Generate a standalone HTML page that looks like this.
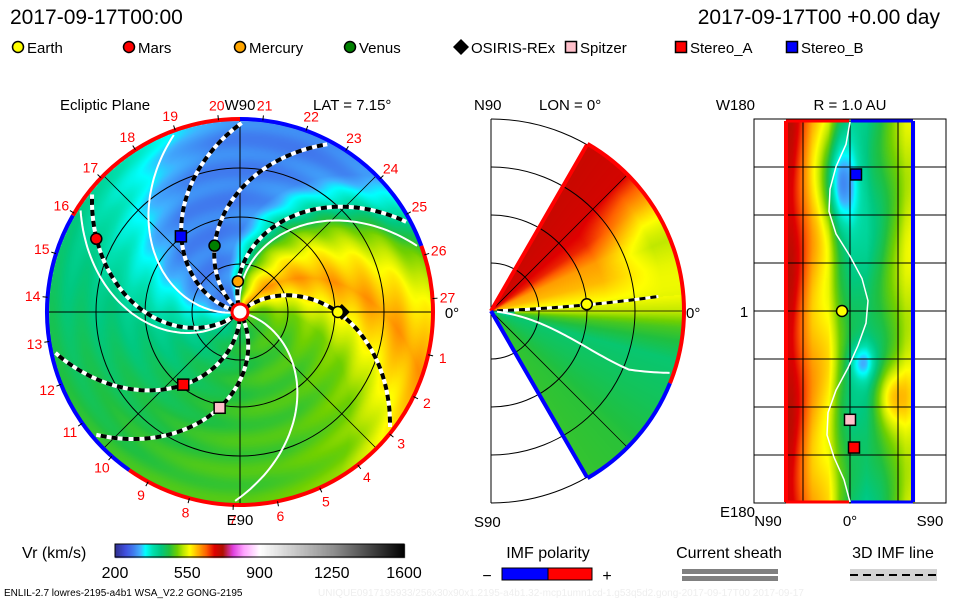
<!DOCTYPE html>
<html><head><meta charset="utf-8">
<style>
html,body{margin:0;padding:0;background:#fff;}
#wrap{position:relative;width:960px;height:600px;overflow:hidden;font-family:"Liberation Sans",sans-serif;}
canvas,svg{position:absolute;left:0;top:0;}
</style></head>
<body>
<div id="wrap">
<canvas id="cv" width="960" height="600"></canvas>
<svg id="sv" width="960" height="600" xmlns="http://www.w3.org/2000/svg" font-family="Liberation Sans, sans-serif">
  <text x="10" y="24" font-size="21" fill="#000">2017-09-17T00:00</text>
  <text x="940" y="24" font-size="21" fill="#000" text-anchor="end">2017-09-17T00 +0.00 day</text>
  <g id="legend" font-size="15"></g>
  <g id="disk"></g>
  <g id="mer"></g>
  <g id="rp"></g>
  <g id="bottom"></g>
</svg>
</div>
<script>
// ---- data ----
var cmapSpeeds = [200,250,290,320,345,380,420,460,500,530,560,600,640,680,720,770,820,900,1250,1600];
var cmapColors = ['#303090','#4050e0','#4080f0','#40b0ff','#00ffff','#00e0b0','#00c880','#20c040','#70d000','#c0e800','#ffff00','#ffb000','#ff6000','#e00000','#b01000','#e040e0','#ffa0ff','#ffffff','#909090','#000000'];
var rimAngles = [0,15,30,45,60,90,105,120,150,180,210,240,270,300,320,340,360];
var rimSpeeds = [560,500,380,300,290,295,320,360,415,440,458,475,480,505,560,610,560];
var latDeg = [60,45,35,25,15,7,0,-5,-15,-30,-45,-60];
var latSpeed = [700,690,665,610,595,565,530,480,430,445,465,470];
var colSpeed = [705,695,655,600,565,480,430,420,450,500,535,545];
var tickSpeeds = [200,550,900,1250,1600];
var carLabels = [1,2,3,4,5,6,7,8,9,10,11,12,13,14,15,16,17,18,19,20,21,22,23,24,25,26,27];
var bodyNames = ['Earth','Mars','Mercury','Venus','OSIRIS-REx','Spitzer','Stereo_A','Stereo_B'];
var bodyColors = ['#ffff00','#ff0000','#ffa500','#008000','#000000','#ffc0cb','#ff0000','#0000ff'];
var bodyShapes = ['circle','circle','circle','circle','diamond','square','square','square'];
var bodyR = [0.51,0.84,0.16,0.37,0.52,0.51,0.48,0.50];
var bodyAng = [0,153,94,111,0,258,232,128];
var dashPhi0 = [40,106,140,167,219,270,298];
var sheetPhi0 = [188,225,-14,98];
var rpBodyLon = [0,null,null,null,0,-102,-128,128];
var rpBodyLat = [4,null,null,null,null,0,-2,-3];

// ---- helpers ----
function hex(c){return [parseInt(c.substr(1,2),16),parseInt(c.substr(3,2),16),parseInt(c.substr(5,2),16)];}
var cmRGB = cmapColors.map(hex);
function cmap(v){
  if(v<=cmapSpeeds[0])return cmRGB[0];
  for(var i=1;i<cmapSpeeds.length;i++){ if(v<=cmapSpeeds[i]){var t=(v-cmapSpeeds[i-1])/(cmapSpeeds[i]-cmapSpeeds[i-1]);var a=cmRGB[i-1],b=cmRGB[i];return [a[0]+(b[0]-a[0])*t,a[1]+(b[1]-a[1])*t,a[2]+(b[2]-a[2])*t];}}
  return cmRGB[cmRGB.length-1];
}
function interp(xs,ys,x){
  if(x<=xs[0])return ys[0];
  for(var i=1;i<xs.length;i++) if(x<=xs[i]) return ys[i-1]+(ys[i]-ys[i-1])*(x-xs[i-1])/(xs[i]-xs[i-1]);
  return ys[ys.length-1];
}
var NS='http://www.w3.org/2000/svg';
function mk(tag,attrs,parent,name){var e=document.createElementNS(NS,tag);for(var k in attrs)e.setAttribute(k,attrs[k]);
  
  
  parent.appendChild(e);return e;}

var cv=document.getElementById('cv'),ctx=cv.getContext('2d');
var img=ctx.createImageData(960,600),D=img.data;
function put(x,y,c){var i=(y*960+x)*4;D[i]=c[0];D[i+1]=c[1];D[i+2]=c[2];D[i+3]=255;}

// ---- ecliptic field ----
var CX=240,CY=312,R=192;
var latSorted=latDeg.slice().reverse(), latSpSorted=latSpeed.slice().reverse();
for(var y=CY-R;y<=CY+R;y++)for(var x=CX-R;x<=CX+R;x++){
  var dx=x-CX,dy=CY-y,r=Math.sqrt(dx*dx+dy*dy)/R; if(r>1)continue;
  var phi=Math.atan2(dy,dx)*180/Math.PI; var psi=phi-78*(1-r); psi=((psi%360)+360)%360;
  var v=interp(rimAngles,rimSpeeds,psi)+8*Math.sin(r*40);
  put(x,y,cmap(v));
}
// ---- meridional field ----
var MX=491,MY=311;
for(var y=MY-R;y<=MY+R;y++)for(var x=MX;x<=MX+R;x++){
  var dx=x-MX,dy=MY-y,rr=Math.sqrt(dx*dx+dy*dy),r=rr/R; if(r>1)continue;
  var lat=Math.atan2(dy,dx)*180/Math.PI; if(Math.abs(lat)>60)continue;
  var v=interp(latSorted,latSpSorted,lat);
  if(lat>5&&lat<45&&r>0.6){var w=Math.min(1,(r-0.6)/0.3)*(1-Math.abs(lat-22)/25);v=v+(530-v)*Math.max(0,w);}
  if(r<0.12&&lat<5&&lat>-15)v=Math.min(v,360+r*600);
  put(x,y,cmap(v));
}
// ---- right panel field ----
var colX=[785,792,800,812,828,840,852,866,880,895,905,914];
for(var y=121;y<=502;y++)for(var x=785;x<=914;x++){
  var v=interp(colX,colSpeed,x)+15*Math.sin(y/23+x/17);
  var b1=Math.exp(-(((x-840)/18)**2+((y-185)/45)**2)); v-=190*b1;
  var b2=Math.exp(-(((x-862)/12)**2+((y-362)/18)**2)); v-=100*b2;
  var b3=Math.exp(-(((x-890)/18)**2+((y-395)/30)**2)); v+=90*b3;
  put(x,y,cmap(v));
}
// ---- colorbar ----
for(var x=115;x<=404;x++){var c=cmap(200+(x-115)/289*1400);for(var y=544;y<=557;y++)put(x,y,c);}
ctx.putImageData(img,0,0);

// ---- overlay ----
var disk=document.getElementById('disk');
function ang(a){return a*Math.PI/180;}
function P(r,a){return [CX+r*Math.cos(ang(a)),CY-r*Math.sin(ang(a))];}
function arcPath(cx,cy,r,a0,a1){var s=[cx+r*Math.cos(ang(a0)),cy-r*Math.sin(ang(a0))],e=[cx+r*Math.cos(ang(a1)),cy-r*Math.sin(ang(a1))];
  var large=(a1-a0)>180?1:0;return 'M'+s[0]+' '+s[1]+' A'+r+' '+r+' 0 '+large+' 0 '+e[0]+' '+e[1];}
[48,95,144].forEach(function(rc){mk('circle',{cx:CX,cy:CY,r:rc,fill:'none',stroke:'#000','stroke-width':1},disk,'orbit-circle');});
mk('line',{x1:CX-R,y1:CY,x2:CX+R,y2:CY,stroke:'#000','stroke-width':1},disk,'x-axis-line');
mk('line',{x1:CX,y1:CY-R,x2:CX,y2:CY+R,stroke:'#000','stroke-width':1},disk,'y-axis-line');
[45,135].forEach(function(a){var p=P(R,a),q=P(R,a+180);mk('line',{x1:p[0],y1:p[1],x2:q[0],y2:q[1],stroke:'#000','stroke-width':0.8},disk,'diagonal-line');});
function spiral(phi0){var pts=[];for(var r=6;r<=190;r+=3){var p=P(r,phi0-0.41*r);pts.push(p[0].toFixed(1)+','+p[1].toFixed(1));}return pts.join(' ');}
sheetPhi0.forEach(function(p0){mk('polyline',{points:spiral(p0),fill:'none',stroke:'#fff','stroke-width':2},disk,'current-sheet-line');});
dashPhi0.forEach(function(p0){var s=spiral(p0);
  mk('polyline',{points:s,fill:'none',stroke:'#fff','stroke-width':4},disk,'imf-line-bg');
  mk('polyline',{points:s,fill:'none',stroke:'#000','stroke-width':4,'stroke-dasharray':'6 5'},disk,'imf-line');});
var rimSeg=[[20,90,'#0000ff'],[90,150,'#ff0000'],[150,235,'#0000ff'],[235,380,'#ff0000']];
rimSeg.forEach(function(s){mk('path',{d:arcPath(CX,CY,R+1,s[0],s[1]),fill:'none',stroke:s[2],'stroke-width':4},disk,'rim-polarity');});
carLabels.forEach(function(k){var a=4+(27-k)*13.2;var p=P(208,a),t1=P(193,a),t2=P(198,a);
  mk('line',{x1:t1[0],y1:t1[1],x2:t2[0],y2:t2[1],stroke:'#000','stroke-width':1},disk,'carrington-tick');
  var t=mk('text',{x:p[0],y:p[1]+5,'font-size':14,fill:'#ff0000','text-anchor':'middle'},disk,'carrington-label');t.textContent=k;});
mk('circle',{cx:CX,cy:CY,r:8,fill:'#fff',stroke:'#ff0000','stroke-width':3},disk,'sun');
[['Ecliptic Plane',60,110,'start','panel-title'],['W90',240,110,'middle','w90-label'],['LAT = 7.15°',313,110,'start','lat-label'],['E90',240,525,'middle','e90-label'],['0°',452,318,'middle','zero-label']].forEach(function(t){
  var e=mk('text',{x:t[1],y:t[2],'font-size':15,fill:'#000','text-anchor':t[3]},disk,t[4]);e.textContent=t[0];});
function marker(g,shape,x,y,col,name){
  if(shape==='circle')mk('circle',{cx:x,cy:y,r:5.5,fill:col,stroke:'#000','stroke-width':1.5},g,name);
  else if(shape==='square')mk('rect',{x:x-5.5,y:y-5.5,width:11,height:11,fill:col,stroke:'#000','stroke-width':1.5},g,name);
  else mk('polygon',{points:(x)+','+(y-8)+' '+(x+8)+','+y+' '+x+','+(y+8)+' '+(x-8)+','+y,fill:col},g,name);
}
var order=[4,0,1,2,3,5,6,7];
order.forEach(function(i){var p=P(bodyR[i]*R,bodyAng[i]);marker(disk,bodyShapes[i],p[0]+(i===4?2:0),p[1],bodyColors[i],'body-'+bodyNames[i].toLowerCase());});

var lg=document.getElementById('legend');
var lgX=[18,129,240,350,461,571,681,792];
bodyNames.forEach(function(n,i){marker(lg,bodyShapes[i],lgX[i],47,bodyColors[i],'legend-marker-'+n.toLowerCase());
  var t=mk('text',{x:lgX[i]+(i===4?10:9),y:53,'font-size':15,fill:'#000'},lg,'legend-label-'+n.toLowerCase());t.textContent=n;});

// ---- meridional overlay ----
var mer=document.getElementById('mer');
function MP(r,a){return [MX+r*Math.cos(ang(a)),MY-r*Math.sin(ang(a))];}
mk('line',{x1:MX,y1:MY-R,x2:MX,y2:MY+R,stroke:'#000','stroke-width':1},mer,'meridional-axis');
[48,96,144,192].forEach(function(rc){mk('path',{d:arcPath(MX,MY,rc,-90,90),fill:'none',stroke:'#000','stroke-width':1},mer,'radius-arc');});
[45,0,-45].forEach(function(a){var p=MP(R,a);mk('line',{x1:MX,y1:MY,x2:p[0],y2:p[1],stroke:'#000','stroke-width':0.8},mer,'lat-line');});
(function(){var pts=[];for(var r=6;r<=170;r+=3){var la=2+3*(r/170);var p=MP(r,la);pts.push(p[0]+','+p[1]);}
  mk('polyline',{points:pts.join(' '),fill:'none',stroke:'#fff','stroke-width':3},mer,'imf-line-bg');
  mk('polyline',{points:pts.join(' '),fill:'none',stroke:'#000','stroke-width':3,'stroke-dasharray':'6 5'},mer,'imf-line');
  var q=[];for(var r=6;r<=190;r+=3){var la=-5-18*Math.sin(Math.min(1,r/150)*Math.PI/2)+(r>150?(r-150)*0.1:0);var p=MP(r,la);q.push(p[0]+','+p[1]);}
  mk('polyline',{points:q.join(' '),fill:'none',stroke:'#fff','stroke-width':2},mer,'current-sheet-line');})();
var a1=MP(R,60),a2=MP(R,-60);
mk('line',{x1:MX,y1:MY,x2:a1[0],y2:a1[1],stroke:'#ff0000','stroke-width':4},mer,'edge-north');
mk('path',{d:arcPath(MX,MY,R+1,-22,60),fill:'none',stroke:'#ff0000','stroke-width':4},mer,'rim-north');
mk('path',{d:arcPath(MX,MY,R+1,-60,-22),fill:'none',stroke:'#0000ff','stroke-width':4},mer,'rim-south');
mk('line',{x1:MX,y1:MY,x2:a2[0],y2:a2[1],stroke:'#0000ff','stroke-width':4},mer,'edge-south');
var ep=MP(96,4);mk('circle',{cx:ep[0],cy:ep[1],r:5.5,fill:'#ffff00',stroke:'#000','stroke-width':1.5},mer,'earth-marker');
[['N90',474,110,'start','n90-label'],['LON = 0°',539,110,'start','lon-label'],['0°',686,318,'start','zero-label'],['S90',474,527,'start','s90-label']].forEach(function(t){
  var e=mk('text',{x:t[1],y:t[2],'font-size':15,fill:'#000','text-anchor':t[3]},mer,t[4]);e.textContent=t[0];});

// ---- right panel overlay ----
var rp=document.getElementById('rp');
mk('rect',{x:754,y:119,width:192,height:384,fill:'none',stroke:'#000','stroke-width':1},rp,'panel-frame');
[803,850,898].forEach(function(x){mk('line',{x1:x,y1:119,x2:x,y2:503,stroke:'#000','stroke-width':1},rp,'grid-v');});
[167,215,263,311,359,407,455].forEach(function(y){mk('line',{x1:754,y1:y,x2:946,y2:y,stroke:'#000','stroke-width':1},rp,'grid-h');});
(function(){var xs=[850,846,836,830,829,836,850,862,868,866,858,848,836,828,827,834,844,850];var pts=[];
  for(var i=0;i<xs.length;i++)pts.push(xs[i]+','+(122+i*(380/(xs.length-1))));
  mk('polyline',{points:pts.join(' '),fill:'none',stroke:'#fff','stroke-width':1.5},rp,'current-sheet-line');})();
mk('line',{x1:786,y1:121,x2:786,y2:502,stroke:'#ff0000','stroke-width':4},rp,'edge-red');
mk('line',{x1:786,y1:121,x2:849,y2:121,stroke:'#ff0000','stroke-width':3},rp,'edge-red-top');
mk('line',{x1:786,y1:502,x2:849,y2:502,stroke:'#ff0000','stroke-width':3},rp,'edge-red-bottom');
mk('line',{x1:913,y1:121,x2:913,y2:502,stroke:'#0000ff','stroke-width':4},rp,'edge-blue');
mk('line',{x1:851,y1:121,x2:913,y2:121,stroke:'#0000ff','stroke-width':3},rp,'edge-blue-top');
mk('line',{x1:851,y1:502,x2:913,y2:502,stroke:'#0000ff','stroke-width':3},rp,'edge-blue-bottom');
[0,5,6,7].forEach(function(i){var y=311-rpBodyLon[i]*(192/180);var x=850-(rpBodyLat[i]||0)*2;
  marker(rp,bodyShapes[i],x,y,bodyColors[i],'rp-body-'+bodyNames[i].toLowerCase());});
[['R = 1.0 AU',850,110,'middle','r-label'],['W180',755,110,'end','w180-label'],['1',744,317,'middle','one-label'],['E180',755,517,'end','e180-label'],['N90',768,526,'middle','n90-label'],['0°',850,526,'middle','zero-label'],['S90',930,526,'middle','s90-label']].forEach(function(t){
  var e=mk('text',{x:t[1],y:t[2],'font-size':15,fill:'#000','text-anchor':t[3]},rp,t[4]);e.textContent=t[0];});

// ---- bottom legends ----
var bt=document.getElementById('bottom');
mk('rect',{x:115,y:544,width:289,height:13,fill:'none',stroke:'#000','stroke-width':1},bt,'colorbar-frame');
var t=mk('text',{x:22,y:558,'font-size':16,fill:'#000'},bt,'colorbar-title');t.textContent='Vr (km/s)';
tickSpeeds.forEach(function(v){var x=115+(v-200)/1400*289;var e=mk('text',{x:x,y:578,'font-size':16,fill:'#000','text-anchor':'middle'},bt,'colorbar-tick');e.textContent=v;});
t=mk('text',{x:548,y:558,'font-size':16,fill:'#000','text-anchor':'middle'},bt,'imf-title');t.textContent='IMF polarity';
mk('rect',{x:502,y:568,width:46,height:12,fill:'#0000ff',stroke:'#000','stroke-width':1},bt,'imf-negative');
mk('rect',{x:548,y:568,width:44,height:12,fill:'#ff0000',stroke:'#000','stroke-width':1},bt,'imf-positive');
t=mk('text',{x:487,y:581,'font-size':16,fill:'#000','text-anchor':'middle'},bt,'minus-sign');t.textContent='−';
t=mk('text',{x:607,y:581,'font-size':16,fill:'#000','text-anchor':'middle'},bt,'plus-sign');t.textContent='+';
t=mk('text',{x:729,y:558,'font-size':16,fill:'#000','text-anchor':'middle'},bt,'sheath-title');t.textContent='Current sheath';
mk('rect',{x:682,y:569,width:96,height:5,fill:'#808080'},bt,'sheath-bar-1');
mk('rect',{x:682,y:576,width:96,height:5,fill:'#808080'},bt,'sheath-bar-2');
t=mk('text',{x:893,y:558,'font-size':16,fill:'#000','text-anchor':'middle'},bt,'imf3d-title');t.textContent='3D IMF line';
mk('rect',{x:850,y:569,width:87,height:12,fill:'#d3d3d3'},bt,'imf3d-bg');
mk('line',{x1:850,y1:575,x2:937,y2:575,stroke:'#000','stroke-width':2,'stroke-dasharray':'8 5'},bt,'imf3d-line');
t=mk('text',{x:4,y:596,'font-size':10,fill:'#000'},bt,'run-info');t.textContent='ENLIL-2.7 lowres-2195-a4b1 WSA_V2.2 GONG-2195';
t=mk('text',{x:318,y:596,'font-size':10,fill:'#eeeeee'},bt,'run-id');t.textContent='UNIQUE0917195933/256x30x90x1.2195-a4b1.32-mcp1umn1cd-1.g53q5d2.gong-2017-09-17T00    2017-09-17';
</script>
</body></html>
